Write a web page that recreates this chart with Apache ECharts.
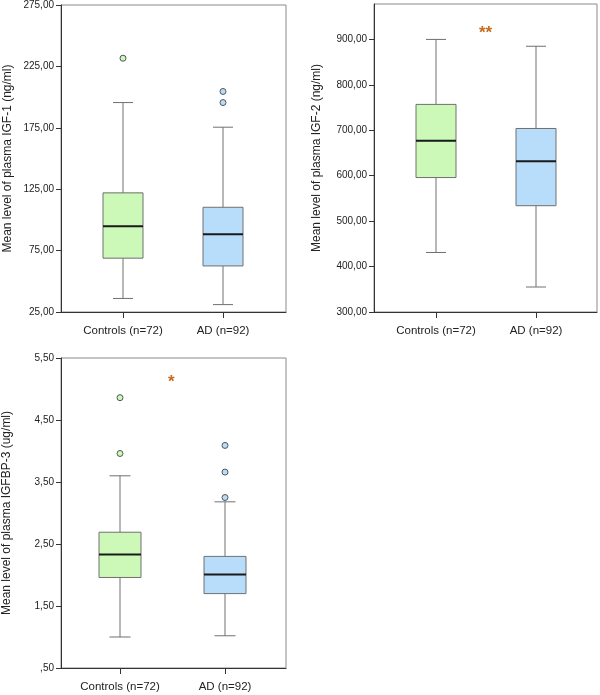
<!DOCTYPE html>
<html>
<head>
<meta charset="utf-8">
<script src="https://cdn.jsdelivr.net/npm/echarts@6/dist/echarts.min.js"></script>
<style>
  html, body { margin: 0; padding: 0; background: #fff; }
  #chart { width: 600px; height: 695px; }
</style>
</head>
<body>
<div id="chart"></div>
<script>
// 数据
var groups = ['Controls (n=72)', 'AD (n=92)'];
var groupColors = ['#ccf8b8', '#b8ddfa'];

// [min, Q1, median, Q3, max]
var igf1Box = [[36, 68.7, 94.7, 121.7, 195], [31, 62.4, 88.2, 110, 175]];
var igf1Out = [[231], [204, 195]];
var igf1Ticks = [25, 75, 125, 175, 225, 275];

var igf2Box = [[431, 596, 677, 757, 900], [355, 534, 632, 704, 885]];
var igf2Out = [[], []];
var igf2Ticks = [300, 400, 500, 600, 700, 800, 900];

var igfbp3Box = [[1.00, 1.96, 2.33, 2.69, 3.60], [1.02, 1.70, 2.01, 2.30, 3.18]];
var igfbp3Out = [[4.86, 3.96], [4.09, 3.66, 3.25]];
var igfbp3Ticks = [0.5, 1.5, 2.5, 3.5, 4.5, 5.5];

var FONT = 'Liberation Sans, Arial, sans-serif';

function fmtNum(v) {
    var s = v.toFixed(2).replace('.', ',');
    if (s.indexOf('0,') === 0) s = s.substring(1);
    return s;
}

// 画箱线
function renderBox(params, api) {
    var idx = api.value(0);
    var pMin = api.coord([idx, api.value(1)]);
    var pQ1 = api.coord([idx, api.value(2)]);
    var pMed = api.coord([idx, api.value(3)]);
    var pQ3 = api.coord([idx, api.value(4)]);
    var pMax = api.coord([idx, api.value(5)]);
    var band = api.size([1, 0])[0];
    var half = band * 0.2;
    var cap = half / 2;
    var x = pMed[0];
    var lineStyle = { stroke: '#707070', lineWidth: 1 };
    return {
        type: 'group',
        children: [
            { type: 'line', shape: { x1: x, y1: pQ3[1], x2: x, y2: pMax[1] }, style: lineStyle },
            { type: 'line', shape: { x1: x, y1: pQ1[1], x2: x, y2: pMin[1] }, style: lineStyle },
            { type: 'line', shape: { x1: x - cap, y1: pMax[1], x2: x + cap, y2: pMax[1] }, style: lineStyle },
            { type: 'line', shape: { x1: x - cap, y1: pMin[1], x2: x + cap, y2: pMin[1] }, style: lineStyle },
            { type: 'rect', shape: { x: x - half, y: pQ3[1], width: half * 2, height: pQ1[1] - pQ3[1] },
              style: { fill: groupColors[idx], stroke: '#707070', lineWidth: 1 } },
            { type: 'line', shape: { x1: x - half, y1: pMed[1], x2: x + half, y2: pMed[1] },
              style: { stroke: '#1a1a1a', lineWidth: 2 } }
        ]
    };
}

function boxData(box) {
    return box.map(function(b, i) { return [i].concat(b); });
}

function outData(out) {
    var arr = [];
    out.forEach(function(vals, i) {
        vals.forEach(function(v) {
            arr.push({ value: [i, v], itemStyle: { color: groupColors[i] } });
        });
    });
    return arr;
}

var panels = [
    { frame: { left: 61, top: 4, width: 225, height: 308 }, box: { left: 73, top: 4, width: 200, height: 308 },
      min: 25, max: 275, ticks: igf1Ticks, name: 'Mean level of plasma IGF-1 (ng/ml)', nameGap: 47,
      box5: igf1Box, out: igf1Out },
    { frame: { left: 374, top: 4, width: 223, height: 308 }, box: { left: 386, top: 4, width: 200, height: 308 },
      min: 300, max: 978, ticks: igf2Ticks, name: 'Mean level of plasma IGF-2 (ng/ml)', nameGap: 51,
      box5: igf2Box, out: igf2Out },
    { frame: { left: 61, top: 358, width: 225, height: 310 }, box: { left: 67.5, top: 358, width: 210, height: 310 },
      min: 0.5, max: 5.5, ticks: igfbp3Ticks, name: 'Mean level of plasma IGFBP-3 (ug/ml)', nameGap: 48,
      box5: igfbp3Box, out: igfbp3Out }
];

function initEcharts() {
    var myChart = echarts.init(document.getElementById('chart'));
    var grid = [], xAxis = [], yAxis = [], series = [];

    panels.forEach(function(p, k) {
        var fi = k * 2, bi = k * 2 + 1;
        grid.push({
            left: p.frame.left, top: p.frame.top, width: p.frame.width, height: p.frame.height,
            show: true, borderColor: '#8a8a8a', borderWidth: 1, backgroundColor: 'transparent'
        });
        grid.push({ left: p.box.left, top: p.box.top, width: p.box.width, height: p.box.height });

        // 外框坐标轴
        xAxis.push({
            gridIndex: fi, type: 'value', min: 0, max: 1,
            axisLine: { show: true, lineStyle: { color: '#333', width: 1 } },
            axisTick: { show: false }, axisLabel: { show: false }, splitLine: { show: false }
        });
        yAxis.push({
            gridIndex: fi, type: 'value', min: p.min, max: p.max,
            name: p.name, nameLocation: 'middle', nameGap: p.nameGap,
            nameTextStyle: { fontFamily: FONT, fontSize: 12, color: '#222' },
            axisLine: { show: true, lineStyle: { color: '#333', width: 1 } },
            axisTick: { show: true, length: 5, customValues: p.ticks, lineStyle: { color: '#333' } },
            axisLabel: { customValues: p.ticks, fontFamily: FONT, fontSize: 10, color: '#222', margin: 7,
                         formatter: fmtNum },
            splitLine: { show: false }
        });

        // 箱线图坐标轴
        xAxis.push({
            gridIndex: bi, type: 'category', data: groups,
            axisLine: { show: false },
            axisTick: { show: true, alignWithLabel: true, length: 6, lineStyle: { color: '#333' } },
            axisLabel: { interval: 0, fontFamily: FONT, fontSize: 11.5, color: '#222', margin: 13 },
            splitLine: { show: false }
        });
        yAxis.push({ gridIndex: bi, type: 'value', min: p.min, max: p.max, show: false });

        series.push({
            type: 'custom', xAxisIndex: bi, yAxisIndex: bi,
            renderItem: renderBox,
            encode: { x: 0, y: [1, 2, 3, 4, 5] },
            data: boxData(p.box5)
        });
        series.push({
            type: 'scatter', xAxisIndex: bi, yAxisIndex: bi,
            symbol: 'circle', symbolSize: 6,
            itemStyle: { borderColor: '#555', borderWidth: 1, opacity: 1 },
            data: outData(p.out)
        });
    });

    var option = {
        animation: false,
        grid: grid,
        xAxis: xAxis,
        yAxis: yAxis,
        series: series,
        graphic: [
            { type: 'text', left: 479, top: 25,
              style: { text: '**', font: 'bold 17px ' + FONT, fill: '#c8691c' } },
            { type: 'text', left: 168, top: 374,
              style: { text: '*', font: 'bold 17px ' + FONT, fill: '#c8691c' } }
        ]
    };

    myChart.setOption(option);
}

initEcharts();
</script>
</body>
</html>
